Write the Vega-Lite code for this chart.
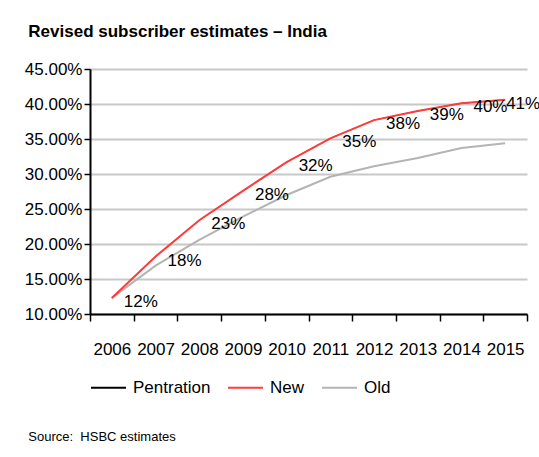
{
  "$schema": "https://vega.github.io/schema/vega-lite/v6.json",
  "padding": {"left": 24, "top": 23, "right": 0, "bottom": 5},
  "background": "white",
  "title": {"text": "Source:\u00a0 HSBC estimates", "orient": "bottom", "anchor": "start", "font": "Liberation Sans", "fontSize": 13, "fontWeight": "normal", "color": "#000000", "offset": 35, "dx": 4},
  "vconcat": [
    {
      "title": {"text": "Revised subscriber estimates – India", "anchor": "start", "font": "Liberation Sans", "fontSize": 17, "fontWeight": "bold", "color": "#000000", "offset": 19, "dx": 4},
      "width": 437,
      "height": 245,
      "data": {"values": [
        {"year": "2006", "series": "Pentration", "value": 0.123},
        {"year": "2007", "series": "Pentration", "value": 0.182},
        {"year": "2008", "series": "Pentration", "value": 0.234},
        {"year": "2009", "series": "Pentration", "value": 0.276},
        {"year": "2010", "series": "Pentration", "value": 0.317},
        {"year": "2011", "series": "Pentration", "value": 0.351},
        {"year": "2012", "series": "Pentration", "value": 0.377},
        {"year": "2013", "series": "Pentration", "value": 0.39},
        {"year": "2014", "series": "Pentration", "value": 0.401},
        {"year": "2015", "series": "Pentration", "value": 0.406},
        {"year": "2006", "series": "New", "value": 0.123},
        {"year": "2007", "series": "New", "value": 0.182},
        {"year": "2008", "series": "New", "value": 0.234},
        {"year": "2009", "series": "New", "value": 0.276},
        {"year": "2010", "series": "New", "value": 0.317},
        {"year": "2011", "series": "New", "value": 0.351},
        {"year": "2012", "series": "New", "value": 0.377},
        {"year": "2013", "series": "New", "value": 0.39},
        {"year": "2014", "series": "New", "value": 0.401},
        {"year": "2015", "series": "New", "value": 0.406},
        {"year": "2006", "series": "Old", "value": 0.123},
        {"year": "2007", "series": "Old", "value": 0.169},
        {"year": "2008", "series": "Old", "value": 0.206},
        {"year": "2009", "series": "Old", "value": 0.239},
        {"year": "2010", "series": "Old", "value": 0.27},
        {"year": "2011", "series": "Old", "value": 0.296},
        {"year": "2012", "series": "Old", "value": 0.311},
        {"year": "2013", "series": "Old", "value": 0.323},
        {"year": "2014", "series": "Old", "value": 0.337},
        {"year": "2015", "series": "Old", "value": 0.344}
      ]},
      "encoding": {
        "x": {"field": "year", "type": "ordinal", "bandPosition": 0.5,
              "scale": {"type": "band", "paddingInner": 0, "paddingOuter": 0},
              "axis": {"title": null, "tickBand": "extent", "tickSize": 7, "labelPadding": 20, "labelAngle": 0, "grid": false}},
        "y": {"field": "value", "type": "quantitative",
              "scale": {"domain": [0.1, 0.45], "nice": false, "zero": false},
              "axis": {"title": null, "format": ".2%", "values": [0.1, 0.15, 0.2, 0.25, 0.3, 0.35, 0.4, 0.45], "tickSize": 6, "labelPadding": 2, "grid": true, "gridColor": "#c8c8c8", "gridWidth": 2, "labelBaseline": "middle"}},
        "color": {"field": "series", "type": "nominal",
                  "scale": {"domain": ["Pentration", "New", "Old"], "range": ["#000000", "#ff3b3b", "#b4b4b4"]},
                  "legend": {"title": null}}
      },
      "layer": [
        {"transform": [{"filter": "datum.series === 'Pentration'"}], "mark": {"type": "line", "strokeWidth": 0.8}},
        {"transform": [{"filter": "datum.series === 'Old'"}], "mark": {"type": "line", "strokeWidth": 2}},
        {"transform": [{"filter": "datum.series === 'New'"}], "mark": {"type": "line", "strokeWidth": 2}},
        {"transform": [{"filter": "datum.series === 'Pentration'"}],
         "mark": {"type": "text", "align": "left", "baseline": "middle", "dx": {"expr": "datum.year === '2015' ? 1 : 12"}, "dy": 4, "font": "Liberation Sans", "fontSize": 17, "color": "#000000"},
         "encoding": {"text": {"field": "value", "type": "quantitative", "format": ".0%"}, "color": {"value": "#000000"}}}
      ]
    }
  ],
  "config": {
    "font": "Liberation Sans",
    "view": {"stroke": null},
    "axis": {"labelFont": "Liberation Sans", "labelFontSize": 17, "labelColor": "#000000", "domainColor": "#000000", "domainWidth": 2, "tickColor": "#000000", "tickWidth": 1.5},
    "legend": {"orient": "bottom", "direction": "horizontal", "symbolType": "stroke", "symbolSize": 1225, "symbolStrokeWidth": 2, "labelFont": "Liberation Sans", "labelFontSize": 17, "labelColor": "#000000", "labelOffset": 6, "columnPadding": 13, "offset": 12}
  }
}
